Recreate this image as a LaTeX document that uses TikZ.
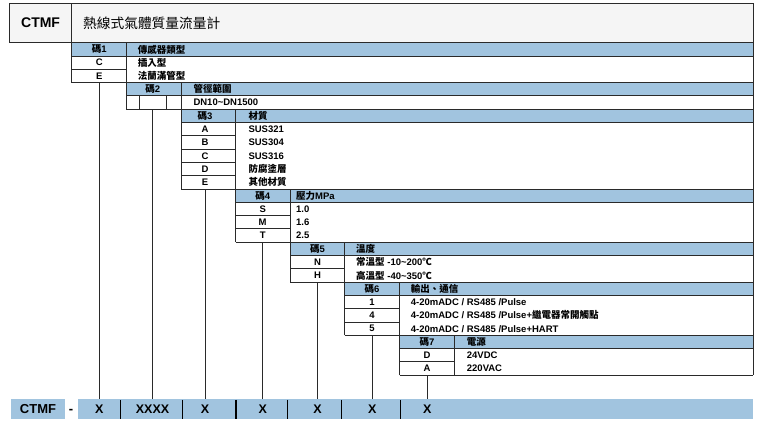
\documentclass[tikz,border=0pt]{standalone}
\usepackage{fontspec}
\setmainfont{Liberation Sans}
\newfontfamily\cjk{Noto Sans CJK TC}
\definecolor{linec}{HTML}{2A2A2A}
\definecolor{hdrblue}{HTML}{A1C4DF}
\definecolor{titlebg}{HTML}{F5F5F5}
\newcommand{\blockframe}[3]{%
  \pgfmathsetmacro{\bYt}{42.7+13.3*#2}%
  \pgfmathsetmacro{\bYh}{42.7+13.3*(#2+1)}%
  \pgfmathsetmacro{\bYb}{42.7+13.3*(#2+1+#3)}%
  \pgfmathsetmacro{\bXr}{#1+54.65}%
  \fill[hdrblue] (#1,\bYt) rectangle (753,\bYh);
  \draw[ln] (#1,\bYb) -- (#1,\bYt) -- (753,\bYt);
  \draw[ln] (#1,\bYh) -- (753,\bYh);
  \draw[ln] (#1,\bYb) -- (753,\bYb);
  \draw[ln] (\bXr,\bYt) -- (\bXr,\bYb);
}
\newcommand{\rowline}[2]{%
  \pgfmathsetmacro{\bYr}{42.7+13.3*#2}%
  \pgfmathsetmacro{\bXr}{#1+54.65}%
  \draw[ln] (#1,\bYr) -- (\bXr,\bYr);
}
\begin{document}
\begin{tikzpicture}[x=1pt,y=-1pt,
  ln/.style={draw=linec,line width=1pt},
  conn/.style={draw=linec,line width=0.75pt},
  codet/.style={inner sep=0pt,font=\fontsize{9.5}{10}\selectfont\bfseries},
  datat/.style={inner sep=0pt,anchor=west,font=\fontsize{9.5}{10}\selectfont\bfseries},
  barx/.style={inner sep=0pt,minimum height=20.3pt,font=\fontsize{12.5}{13}\selectfont\bfseries}]
\useasboundingbox (0,0) rectangle (763,424);
% title
\draw[ln,fill=titlebg] (9.5,3.3) rectangle (753,42.7);
\draw[ln] (71.7,3.3) -- (71.7,42.7);
\node[inner sep=0pt,font=\fontsize{14}{15}\selectfont\bfseries] (ttl) at (40.6,23) {CTMF};
\node[inner sep=0pt,anchor=west,font=\fontsize{13.7}{15}\selectfont\cjk] (ttlcn) at (83,23) {熱線式氣體質量流量計};
% block frames
\blockframe{71.7}{0}{2}
\rowline{71.7}{2}
\blockframe{126.35}{3}{1}
\draw[ln] (139.3,95.9) -- (139.3,109.2);
\draw[ln] (166.7,95.9) -- (166.7,109.2);
\blockframe{181}{5}{5}
\rowline{181}{7}\rowline{181}{8}\rowline{181}{9}\rowline{181}{10}
\blockframe{235.65}{11}{3}
\rowline{235.65}{13}\rowline{235.65}{14}
\blockframe{290.3}{15}{2}
\rowline{290.3}{17}
\blockframe{344.95}{18}{3}
\rowline{344.95}{20}\rowline{344.95}{21}
\blockframe{399.6}{22}{2}
\rowline{399.6}{24}
\draw[ln] (753,3.3) -- (753,375.2);
% block 1
\node[codet] (c1h) at (99.3,49.35) {{\cjk 碼}1};
\node[codet] (c1a) at (99.3,62.65) {C};
\node[codet] (c1b) at (99.3,75.95) {E};
\node[datat] (d1h) at (137.7,49.35) {\cjk 傳感器類型};
\node[datat] (d1a) at (137.7,62.65) {\cjk 插入型};
\node[datat] (d1b) at (137.7,75.95) {\cjk 法蘭滿管型};
% block 2
\node[codet] (c2h) at (152.7,89.25) {{\cjk 碼}2};
\node[datat] (d2h) at (193.3,89.25) {\cjk 管徑範圍};
\node[datat] (d2a) at (193.3,102.55) {DN10\raisebox{0.5pt}{\textasciitilde}DN1500};
% block 3
\node[codet] (c3h) at (205,115.85) {{\cjk 碼}3};
\node[codet] (c3a) at (205,129.15) {A};
\node[codet] (c3b) at (205,142.45) {B};
\node[codet] (c3c) at (205,155.75) {C};
\node[codet] (c3d) at (205,169.05) {D};
\node[codet] (c3e) at (205,182.35) {E};
\node[datat] (d3h) at (248.3,115.85) {\cjk 材質};
\node[datat] (d3a) at (248.3,129.15) {SUS321};
\node[datat] (d3b) at (248.3,142.45) {SUS304};
\node[datat] (d3c) at (248.3,155.75) {SUS316};
\node[datat] (d3d) at (248.3,169.05) {\cjk 防腐塗層};
\node[datat] (d3e) at (248.3,182.35) {\cjk 其他材質};
% block 4
\node[codet] (c4h) at (262.7,195.65) {{\cjk 碼}4};
\node[codet] (c4a) at (262.7,208.95) {S};
\node[codet] (c4b) at (262.7,222.25) {M};
\node[codet] (c4c) at (262.7,235.55) {T};
\node[datat] (d4h) at (296,195.65) {{\cjk 壓力}MPa};
\node[datat] (d4a) at (296,208.95) {1.0};
\node[datat] (d4b) at (296,222.25) {1.6};
\node[datat] (d4c) at (296,235.55) {2.5};
% block 5
\node[codet] (c5h) at (317.5,248.85) {{\cjk 碼}5};
\node[codet] (c5a) at (317.5,262.15) {N};
\node[codet] (c5b) at (317.5,275.45) {H};
\node[datat] (d5h) at (356,248.85) {\cjk 溫度};
\node[datat] (d5a) at (356,262.15) {{\cjk 常溫型} -10\textasciitilde200{\cjk ℃}};
\node[datat] (d5b) at (356,275.45) {{\cjk 高溫型} -40\textasciitilde350{\cjk ℃}};
% block 6
\node[codet] (c6h) at (372,288.75) {{\cjk 碼}6};
\node[codet] (c6a) at (372,302.05) {1};
\node[codet] (c6b) at (372,315.35) {4};
\node[codet] (c6c) at (372,328.65) {5};
\node[datat] (d6h) at (410.7,288.75) {\cjk 輸出、通信};
\node[datat] (d6a) at (410.7,302.05) {4-20mADC / RS485 /Pulse};
\node[datat] (d6b) at (410.7,315.35) {4-20mADC / RS485 /Pulse+{\cjk 繼電器常開觸點}};
\node[datat] (d6c) at (410.7,328.65) {4-20mADC / RS485 /Pulse+HART};
% block 7
\node[codet] (c7h) at (427,341.95) {{\cjk 碼}7};
\node[codet] (c7a) at (427,355.25) {D};
\node[codet] (c7b) at (427,368.55) {A};
\node[datat] (d7h) at (466.7,341.95) {\cjk 電源};
\node[datat] (d7a) at (466.7,355.25) {24VDC};
\node[datat] (d7b) at (466.7,368.55) {220VAC};
% bottom bar
\fill[hdrblue] (78.3,399) rectangle (753.3,419.3);
\node[fill=hdrblue,inner sep=0pt,minimum width=54pt,minimum height=20.3pt,font=\fontsize{13}{14}\selectfont\bfseries] (bctmf) at (38,409.15) {CTMF};
\node[inner sep=0pt,font=\fontsize{13}{14}\selectfont\bfseries] (bdash) at (71,411.5) {-};
\foreach \xx in {120.7,182.3,236,287.7,341.7,400.7}
  \draw[black,line width=1.3pt] (\xx,399.8) -- (\xx,418.5);
\node[barx] (x1) at (99.3,409.15) {X};
\node[barx] (x2) at (152.5,409.15) {XXXX};
\node[barx] (x3) at (205,409.15) {X};
\node[barx] (x4) at (262.7,409.15) {X};
\node[barx] (x5) at (317.6,409.15) {X};
\node[barx] (x6) at (372.2,409.15) {X};
\node[barx] (x7) at (427.2,409.15) {X};
% connectors
\coordinate (p1) at (99.3,82.6);
\coordinate (p2) at (152.5,109.2);
\coordinate (p3) at (205,189.0);
\coordinate (p4) at (262.7,242.2);
\coordinate (p5) at (317.6,282.1);
\coordinate (p6) at (372.2,335.3);
\coordinate (p7) at (427.2,375.2);
\draw[conn] (p1) -- (x1.north);
\draw[conn] (p2) -- (x2.north);
\draw[conn] (p3) -- (x3.north);
\draw[conn] (p4) -- (x4.north);
\draw[conn] (p5) -- (x5.north);
\draw[conn] (p6) -- (x6.north);
\draw[conn] (p7) -- (x7.north);
\end{tikzpicture}
\end{document}
